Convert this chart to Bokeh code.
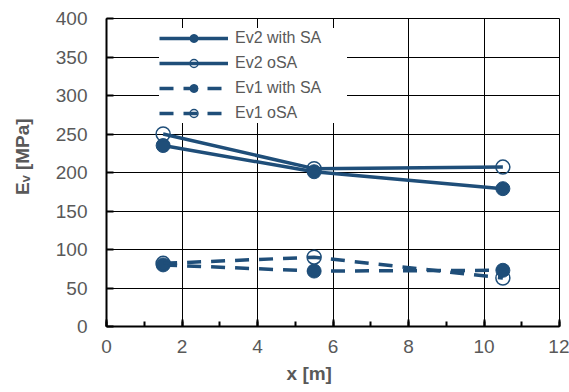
from bokeh.plotting import figure
from bokeh.models import Range1d, SingleIntervalTicker, Legend, LegendItem
from bokeh.embed import file_html
from bokeh.resources import INLINE

x_pos = [1.5, 5.5, 10.5]
ev2_with_sa = [235, 201, 179]
ev2_osa = [250, 205, 207]
ev1_with_sa = [80, 72, 73]
ev1_osa = [82, 90, 63]
labels = ["Ev2 with SA", "Ev2 oSA", "Ev1 with SA", "Ev1 oSA"]
x_title = "x [m]"
y_title = "Eᵥ [MPa]"

C = "#1F4E79"
GREY = "#595959"
FONT = "Liberation Sans"
NB = "\u00a0"

p = figure(width=569, height=392, output_backend="svg", toolbar_location=None,
           x_range=Range1d(0, 12), y_range=Range1d(0, 400),
           min_border_left=106, min_border_right=10, min_border_top=18, min_border_bottom=66)
p.background_fill_color = "white"
p.border_fill_color = "white"
p.outline_line_color = "black"
p.outline_line_width = 1

p.xaxis.ticker = SingleIntervalTicker(interval=2, num_minor_ticks=2)
p.yaxis.ticker = SingleIntervalTicker(interval=50, num_minor_ticks=0)

for ax in (p.xaxis, p.yaxis):
    ax.axis_line_color = "black"
    ax.axis_line_width = 2
    ax.major_tick_in = 7
    ax.major_tick_out = 0
    ax.major_tick_line_color = "black"
    ax.major_tick_line_width = 2
    ax.major_label_text_font = FONT
    ax.major_label_text_font_size = "19px"
    ax.major_label_text_color = GREY
    ax.axis_label_text_font = FONT
    ax.axis_label_text_font_size = "19px"
    ax.axis_label_text_font_style = "bold"
    ax.axis_label_text_color = GREY
p.xaxis.minor_tick_in = 5
p.xaxis.minor_tick_out = 0
p.xaxis.minor_tick_line_color = "black"
p.xaxis.minor_tick_line_width = 2
p.yaxis.minor_tick_line_color = None
p.xaxis.major_label_standoff = 13
p.yaxis.major_label_standoff = 19
p.xaxis.axis_label_standoff = 7
p.yaxis.axis_label_standoff = 20
p.xaxis.axis_label = x_title + NB * 9
p.yaxis.axis_label = NB * 6 + y_title

for g in (p.xgrid, p.ygrid):
    g.grid_line_color = "black"
    g.grid_line_width = 1

lw = 3.5
r1l = p.line(x_pos, ev2_with_sa, line_color=C, line_width=lw)
r1m = p.scatter(x_pos, ev2_with_sa, marker="circle", size=14, fill_color=C, line_color=C)
r2l = p.line(x_pos, ev2_osa, line_color=C, line_width=lw)
r2m = p.scatter(x_pos, ev2_osa, marker="circle", size=14, fill_color=None, line_color=C, line_width=1.5)
r3l = p.line(x_pos, ev1_with_sa, line_color=C, line_width=lw, line_dash="14 10")
r3m = p.scatter(x_pos, ev1_with_sa, marker="circle", size=14, fill_color=C, line_color=C)
r4l = p.line(x_pos, ev1_osa, line_color=C, line_width=lw, line_dash="14 10")
r4m = p.scatter(x_pos, ev1_osa, marker="circle", size=14, fill_color=None, line_color=C, line_width=1.5)

items = [
    LegendItem(label=labels[0], renderers=[r1l, r1m]),
    LegendItem(label=labels[1], renderers=[r2l, r2m]),
    LegendItem(label=labels[2], renderers=[r3l, r3m]),
    LegendItem(label=labels[3], renderers=[r4l, r4m]),
]
legend = Legend(items=items, location=(53, 203),
                label_text_font=FONT, label_text_font_size="16px", label_text_color=GREY)
legend.border_line_color = None
legend.background_fill_color = "white"
legend.background_fill_alpha = 1
legend.glyph_width = 69
legend.glyph_height = 20
legend.label_height = 20
legend.label_width = 112
legend.spacing = 5
legend.padding = 6
legend.margin = 0
legend.label_standoff = 7
p.add_layout(legend, "center")

open("out.html", "w").write(file_html(p, INLINE))
